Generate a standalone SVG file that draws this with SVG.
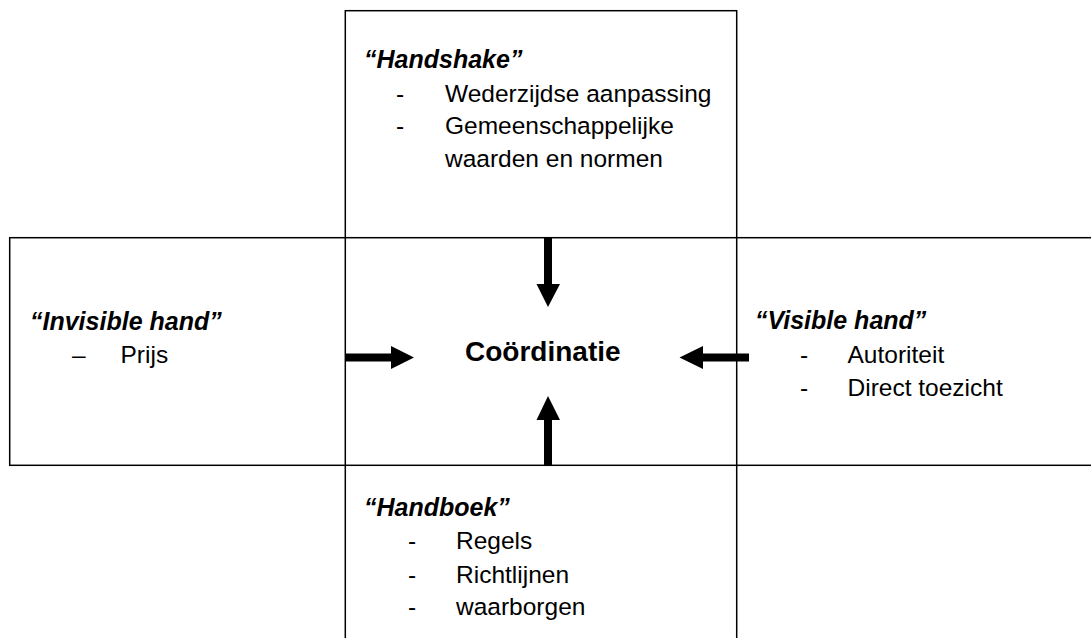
<svg xmlns="http://www.w3.org/2000/svg" width="1091" height="638" viewBox="0 0 1091 638">
<style>
.box{fill:none;stroke:#000;stroke-width:1.5}
.title{font-family:"Liberation Sans",Arial,sans-serif;font-weight:bold;font-style:italic;font-size:25px;fill:#000}
.item{font-family:"Liberation Sans",Arial,sans-serif;font-size:24.5px;fill:#000}
.center{font-family:"Liberation Sans",Arial,sans-serif;font-weight:bold;font-size:28px;fill:#000}
.arrow{fill:#000}
</style>
<rect width="1091" height="638" fill="#fff"/>
<g id="frame">
<rect class="box" x="345.3" y="10.7" width="391.4" height="640"/>
<rect class="box" x="9.7" y="237.7" width="1090" height="227.6"/>
</g>
<g id="node-handshake">
<text class="title" x="364" y="67.7">“Handshake”</text>
<text class="item" x="396" y="101.7">-</text>
<text class="item" x="445" y="101.7">Wederzijdse aanpassing</text>
<text class="item" x="396" y="133.5">-</text>
<text class="item" x="445" y="133.5">Gemeenschappelijke</text>
<text class="item" x="445" y="166.5">waarden en normen</text>
</g>
<g id="node-invisible">
<text class="title" x="30" y="330">“Invisible hand”</text>
<text class="item" x="72" y="363">–</text>
<text class="item" x="120.5" y="363">Prijs</text>
</g>
<g id="node-visible">
<text class="title" x="755" y="329">“Visible hand”</text>
<text class="item" x="800" y="363.3">-</text>
<text class="item" x="847.5" y="363.3">Autoriteit</text>
<text class="item" x="800" y="395.7">-</text>
<text class="item" x="847.5" y="395.7">Direct toezicht</text>
</g>
<g id="node-handboek">
<text class="title" x="364" y="516">“Handboek”</text>
<text class="item" x="408" y="549.3">-</text>
<text class="item" x="456" y="549.3">Regels</text>
<text class="item" x="408" y="582.7">-</text>
<text class="item" x="456" y="582.7">Richtlijnen</text>
<text class="item" x="408" y="615">-</text>
<text class="item" x="456" y="615">waarborgen</text>
</g>
<g id="node-center">
<text class="center" x="465" y="360.5">Coördinatie</text>
</g>
<g id="connectors">
<polygon class="arrow" points="544,238 552,238 552,284 560,284 548,307 536.5,284 544,284"/>
<polygon class="arrow" points="544,465 552,465 552,420 560,420 548,396 536.5,420 544,420"/>
<polygon class="arrow" points="345,353.5 391,353.5 391,346 414,357.5 391,369 391,361.5 345,361.5"/>
<polygon class="arrow" points="749,353.5 703,353.5 703,346 679.5,357.5 703,369 703,361.5 749,361.5"/>
</g>
</svg>
